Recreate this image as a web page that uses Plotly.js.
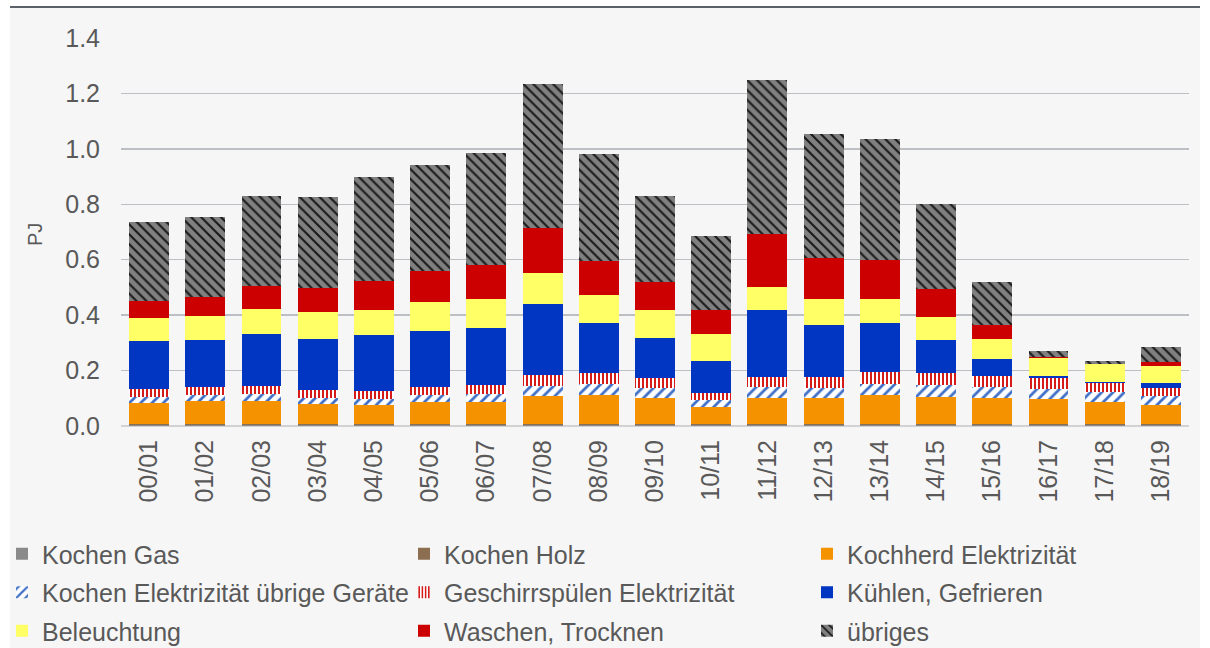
<!DOCTYPE html>
<html>
<head>
<meta charset="utf-8">
<script src="https://cdn.plot.ly/plotly-3.0.1.min.js"></script>
<style>
  html, body { margin: 0; padding: 0; background: #ffffff; }
  #chart { width: 1210px; height: 648px; }
</style>
</head>
<body>
<div id="chart"></div>
<script>
// Haushalt: Energieverbrauch nach Verwendungszweck (PJ)
const years = ['00/01', '01/02', '02/03', '03/04', '04/05', '05/06', '06/07', '07/08', '08/09', '09/10',
  '10/11', '11/12', '12/13', '13/14', '14/15', '15/16', '16/17', '17/18', '18/19'];

const kochenGas = [0.004, 0.004, 0.004, 0.004, 0.004, 0.004, 0.004, 0.004, 0.004, 0.004,
  0.004, 0.004, 0.004, 0.004, 0.004, 0.004, 0.004, 0.004, 0.004];
const kochenHolz = [0.002, 0.002, 0.002, 0.002, 0.002, 0.002, 0.002, 0.002, 0.002, 0.002,
  0.002, 0.002, 0.002, 0.002, 0.002, 0.002, 0.002, 0.002, 0.002];
const kochherd = [0.077, 0.083, 0.084, 0.074, 0.069, 0.081, 0.081, 0.102, 0.105, 0.095,
  0.061, 0.095, 0.094, 0.105, 0.100, 0.095, 0.090, 0.081, 0.069];
const kochenUebrige = [0.022, 0.022, 0.026, 0.021, 0.021, 0.024, 0.029, 0.035, 0.040, 0.036,
  0.026, 0.039, 0.037, 0.042, 0.043, 0.041, 0.039, 0.035, 0.033];
const geschirr = [0.028, 0.030, 0.030, 0.028, 0.029, 0.030, 0.031, 0.040, 0.039, 0.035,
  0.025, 0.037, 0.039, 0.043, 0.041, 0.040, 0.040, 0.033, 0.028];
const kuehlen = [0.173, 0.171, 0.187, 0.185, 0.203, 0.202, 0.206, 0.256, 0.181, 0.144,
  0.117, 0.242, 0.188, 0.177, 0.122, 0.058, 0.006, 0.003, 0.018];
const beleuchtung = [0.082, 0.086, 0.089, 0.098, 0.092, 0.104, 0.105, 0.113, 0.101, 0.102,
  0.096, 0.083, 0.094, 0.084, 0.083, 0.074, 0.064, 0.064, 0.063];
const waschen = [0.064, 0.067, 0.082, 0.087, 0.104, 0.111, 0.122, 0.164, 0.123, 0.102,
  0.089, 0.192, 0.148, 0.143, 0.100, 0.050, 0.004, 0.002, 0.014];
const uebriges = [0.284, 0.289, 0.325, 0.328, 0.375, 0.383, 0.404, 0.518, 0.385, 0.311,
  0.264, 0.554, 0.447, 0.434, 0.305, 0.155, 0.022, 0.010, 0.053];

const txt = '#595959';
const fontFam = 'Liberation Sans, Arial, sans-serif';

function bar(name, y, marker, legend) {
  return {
    type: 'bar', x: years, y: y, name: name,
    marker: Object.assign({ line: { width: 0 } }, marker),
    legend: legend, legendgroup: name,
    hovertemplate: '%{x}: %{y:.3f} PJ<extra>' + name + '</extra>'
  };
}

const traces = [
  bar('Kochen Gas', kochenGas, { color: '#8a8a8a' }, 'legend'),
  bar('Kochen Holz', kochenHolz, { color: '#8c6f50' }, 'legend2'),
  bar('Kochherd Elektrizität', kochherd, { color: '#f59200' }, 'legend3'),
  bar('Kochen Elektrizität übrige Geräte', kochenUebrige, {
    color: '#ffffff',
    pattern: { shape: '/', fgcolor: '#3f6fc6', bgcolor: '#ffffff', size: 8, solidity: 0.35 }
  }, 'legend'),
  bar('Geschirrspülen Elektrizität', geschirr, {
    color: '#ffffff',
    pattern: { shape: '|', fgcolor: '#d51a1a', bgcolor: '#ffffff', size: 4, solidity: 0.5 }
  }, 'legend2'),
  bar('Kühlen, Gefrieren', kuehlen, { color: '#0036c2' }, 'legend3'),
  bar('Beleuchtung', beleuchtung, { color: '#ffff66' }, 'legend'),
  bar('Waschen, Trocknen', waschen, { color: '#cc0000' }, 'legend2'),
  bar('übriges', uebriges, {
    color: '#7f7f7f',
    pattern: { shape: '\\', fgcolor: '#1a1a1a', bgcolor: '#808080', size: 7, solidity: 0.3 }
  }, 'legend3')
];

function legendAt(px) {
  return {
    xref: 'container', yref: 'container',
    x: px / 1210, xanchor: 'left',
    y: 1 - 531 / 648, yanchor: 'top',
    orientation: 'v', traceorder: 'grouped', tracegroupgap: 3,
    bgcolor: 'rgba(0,0,0,0)',
    font: { family: fontFam, size: 25, color: txt }
  };
}

const layout = {
  width: 1210, height: 648,
  margin: { l: 121, r: 21, t: 38, b: 222, autoexpand: false },
  paper_bgcolor: '#ffffff',
  plot_bgcolor: 'rgba(0,0,0,0)',
  barmode: 'stack',
  bargap: 0.29,
  font: { family: fontFam, color: txt },
  xaxis: {
    type: 'category',
    tickangle: -90,
    ticks: '',
    ticklabelstandoff: 8,
    tickfont: { family: fontFam, size: 25, color: txt },
    showgrid: false,
    showline: false,
    zeroline: false
  },
  yaxis: {
    range: [0, 1.4],
    dtick: 0.2,
    tickformat: '.1f',
    ticks: '',
    ticklabelstandoff: 20,
    tickfont: { family: fontFam, size: 25, color: txt },
    gridcolor: '#bcbfc3',
    gridwidth: 1.5,
    zeroline: true,
    zerolinecolor: '#d2d2d2',
    zerolinewidth: 2
  },
  annotations: [
    {
      text: 'PJ', textangle: -90, showarrow: false,
      xref: 'paper', yref: 'paper',
      x: (35 - 121) / 1068, y: (426 - 235) / 388,
      xanchor: 'center', yanchor: 'middle',
      font: { family: fontFam, size: 20, color: txt }
    }
  ],
  legend: legendAt(2),
  legend2: legendAt(404),
  legend3: legendAt(807),
  shapes: [
    {
      type: 'rect', xref: 'paper', yref: 'paper', layer: 'below',
      x0: (10 - 121) / 1068, x1: (1200 - 121) / 1068,
      y0: (426 - 648) / 388, y1: (426 - 7) / 388,
      fillcolor: '#f6f6f6', line: { width: 0 }
    },
    {
      type: 'line', xref: 'paper', yref: 'paper',
      x0: (10 - 121) / 1068, x1: (1200 - 121) / 1068,
      y0: (426 - 7) / 388, y1: (426 - 7) / 388,
      line: { color: '#5b6169', width: 2 }
    }
  ]
};

Plotly.newPlot('chart', traces, layout, { displayModeBar: false, staticPlot: true });
</script>
</body>
</html>
